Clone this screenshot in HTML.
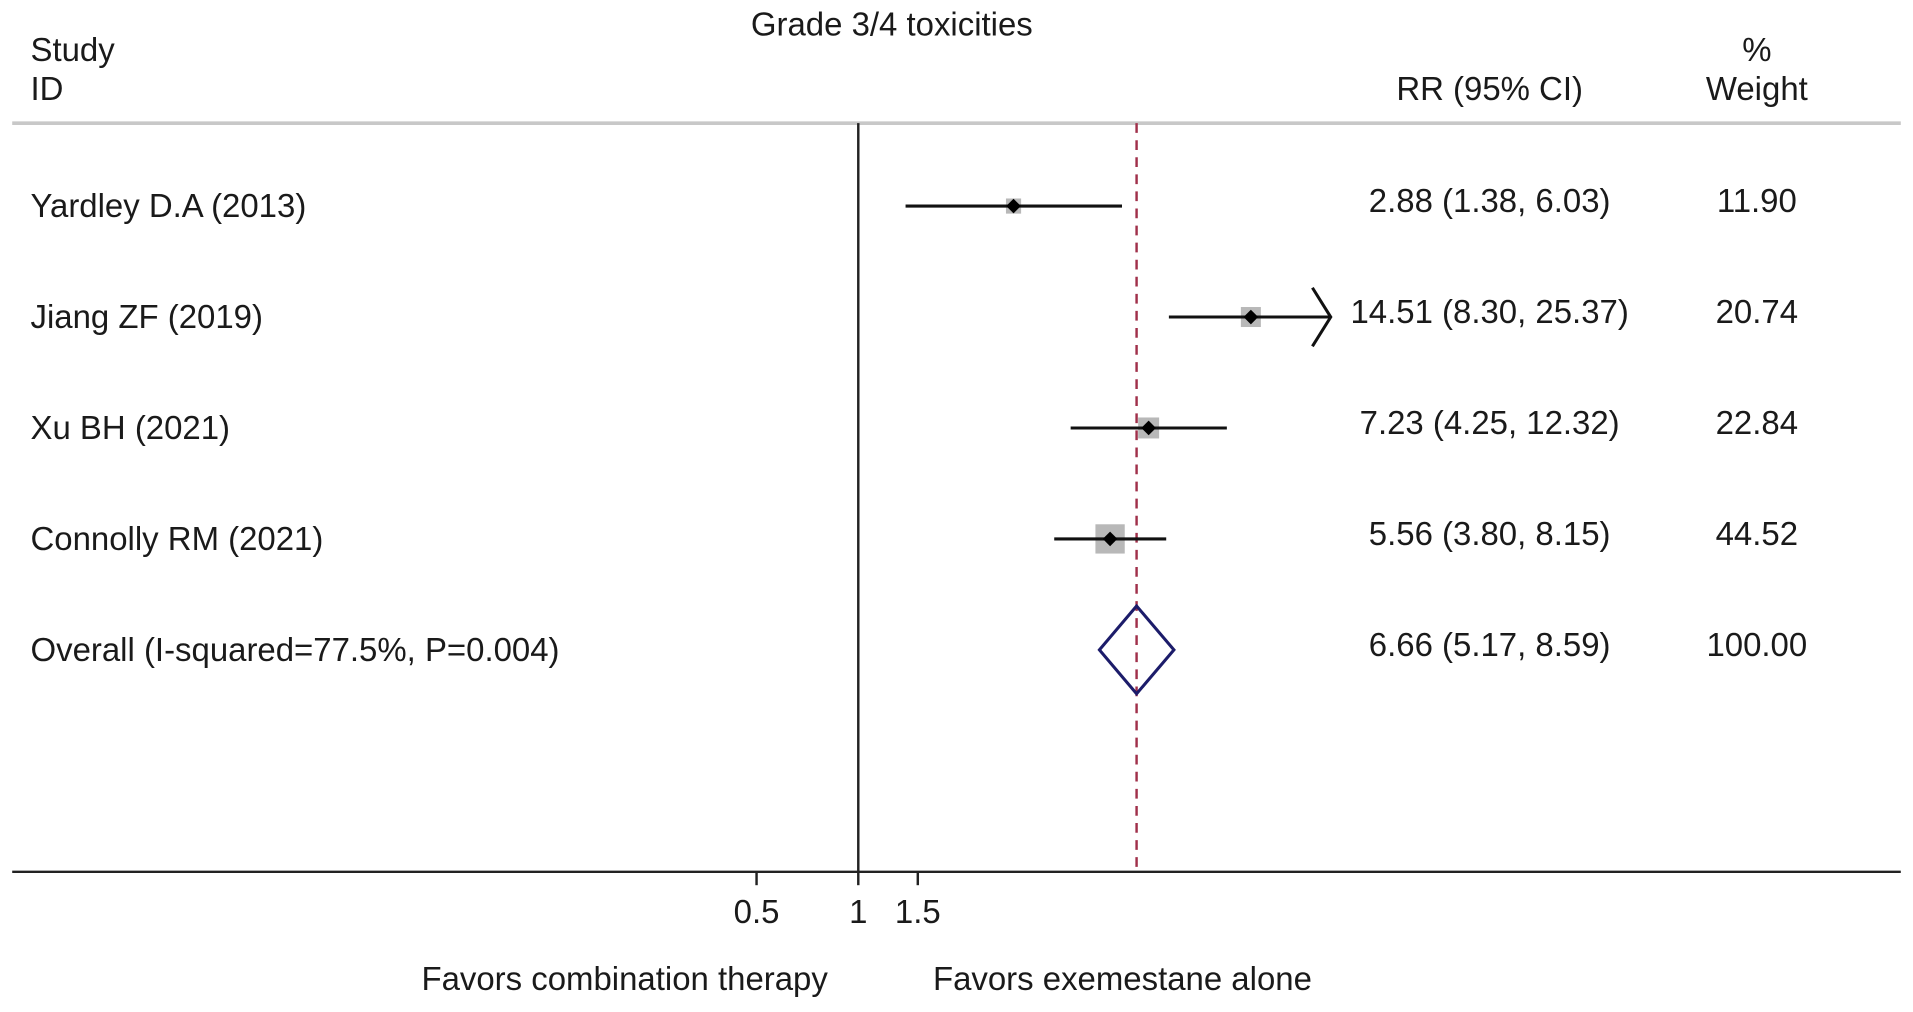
<!DOCTYPE html>
<html><head><meta charset="utf-8"><style>
html,body{margin:0;padding:0;background:#fff;}
svg{display:block;}
text{font-family:"Liberation Sans",Arial,sans-serif;font-size:27px;fill:#1a1a1a;}
</style></head><body>
<svg id="chart" width="1913" height="1012" viewBox="0 0 1568 830" preserveAspectRatio="none">
<text x="731" y="29" text-anchor="middle">Grade 3/4 toxicities</text>
<text x="25" y="50">Study</text>
<text x="25" y="82">ID</text>
<text x="1221" y="82" text-anchor="middle">RR (95% CI)</text>
<text x="1440" y="50" text-anchor="middle">%</text>
<text x="1440" y="82" text-anchor="middle">Weight</text>
<line x1="10" y1="101" x2="1558" y2="101" stroke="#c8c8c8" stroke-width="3"/>
<g id="marks"></g>
</svg>
<script>
const studies = ["Yardley D.A (2013)","Jiang ZF (2019)","Xu BH (2021)","Connolly RM (2021)"];
const rr = [2.88, 14.51, 7.23, 5.56];
const lower = [1.38, 8.30, 4.25, 3.80];
const upper = [6.03, 25.37, 12.32, 8.15];
const weights = [11.90, 20.74, 22.84, 44.52];
const overallLabel = "Overall (I-squared=77.5%, P=0.004)";
const overall = [6.66, 5.17, 8.59];
const tickValues = [0.5, 1, 1.5];
const tickLabels = ["0.5", "1", "1.5"];
const axisMax = 25.0;

const NS = "http://www.w3.org/2000/svg";
const g = document.getElementById("marks");
const X0 = 703.5, K = 120.3;
function xScale(v){ return X0 + K*Math.log(v); }
function rowY(i){ return 169 + i*91; }
function mk(tag, attrs, parent){
  const e = document.createElementNS(NS, tag);
  for (const k in attrs) e.setAttribute(k, attrs[k]);
  (parent||g).appendChild(e);
  return e;
}
const yTop = 101, yAxis = 715;
let el;
el = mk("line",{x1:xScale(1),y1:yTop,x2:xScale(1),y2:yAxis,stroke:"#222","stroke-width":2});


el = mk("line",{x1:xScale(overall[0]),y1:yTop,x2:xScale(overall[0]),y2:yAxis,stroke:"#a0304a","stroke-width":2,"stroke-dasharray":"8,6"});


el = mk("line",{x1:10,y1:yAxis,x2:1558,y2:yAxis,stroke:"#222","stroke-width":2});


tickValues.forEach((v,i)=>{
  const x = xScale(v);
  let t = mk("line",{x1:x,y1:yAxis,x2:x,y2:yAxis+11,stroke:"#222","stroke-width":2});
  
  
  let l = mk("text",{x:x,y:757,"text-anchor":"middle"});
  l.textContent = tickLabels[i];
  
  
});
studies.forEach((s,i)=>{
  const y = rowY(i);
  let t = mk("text",{x:25,y:y+9});
  t.textContent = s;
  
  
  const side = 3.6*Math.sqrt(weights[i]);
  const cx = xScale(rr[i]);
  let b = mk("rect",{x:cx-side/2,y:y-side/2,width:side,height:side,fill:"#b8b8b8"});
  
  
  const clipped = upper[i] > axisMax;
  const xr = clipped ? xScale(axisMax) : xScale(upper[i]);
  let c = mk("line",{x1:xScale(lower[i]),y1:y,x2:xr,y2:y,stroke:"#111","stroke-width":2.5});
  
  
  if (clipped){
    let a = mk("polyline",{points:`${xr-15},${y-24} ${xr},${y} ${xr-15},${y+24}`,fill:"none",stroke:"#111","stroke-width":2.5});
    
    
  }
  let d = mk("polygon",{points:`${cx-6},${y} ${cx},${y-6} ${cx+6},${y} ${cx},${y+6}`,fill:"#000"});
  
  
  let r = mk("text",{x:1221,y:y+5,"text-anchor":"middle"});
  r.textContent = `${rr[i].toFixed(2)} (${lower[i].toFixed(2)}, ${upper[i].toFixed(2)})`;
  
  
  let w = mk("text",{x:1440,y:y+5,"text-anchor":"middle"});
  w.textContent = weights[i].toFixed(2);
  
  
});
const oy = rowY(4);
el = mk("text",{x:25,y:oy+9});
el.textContent = overallLabel;


const ox = xScale(overall[0]);
el = mk("polygon",{points:`${xScale(overall[1])},${oy} ${ox},${oy-36} ${xScale(overall[2])},${oy} ${ox},${oy+36}`,fill:"none",stroke:"#1c1c6a","stroke-width":2.5});


el = mk("text",{x:1221,y:oy+5,"text-anchor":"middle"});
el.textContent = `${overall[0].toFixed(2)} (${overall[1].toFixed(2)}, ${overall[2].toFixed(2)})`;


el = mk("text",{x:1440,y:oy+5,"text-anchor":"middle"});
el.textContent = "100.00";


el = mk("text",{x:512,y:812,"text-anchor":"middle"});
el.textContent = "Favors combination therapy";


el = mk("text",{x:920,y:812,"text-anchor":"middle"});
el.textContent = "Favors exemestane alone";


</script>
</body></html>
